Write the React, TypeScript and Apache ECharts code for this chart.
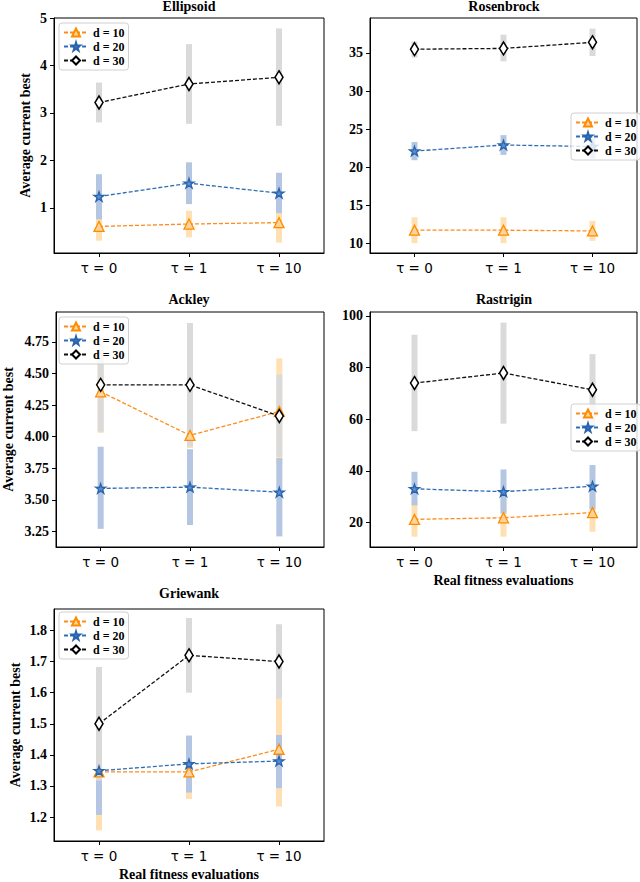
import React, { useEffect, useRef } from "react";
import * as echarts from "echarts";

// ---------- data ----------
const tauX = [0, 1, 2];
const tauLabels = ["τ = 0", "τ = 1", "τ = 10"];
const seriesNames = ["d = 10", "d = 20", "d = 30"];

// each: [d=10, d=20, d=30] x [τ=0, τ=1, τ=10]
const ellipsoidMean = [[0.61, 0.66, 0.69], [1.24, 1.52, 1.31], [3.22, 3.61, 3.75]];
const ellipsoidLow = [[0.31, 0.38, 0.27], [0.76, 1.08, 0.89], [2.8, 2.77, 2.73]];
const ellipsoidHigh = [[0.91, 0.94, 1.11], [1.71, 1.96, 1.74], [3.64, 4.45, 4.78]];
const ellipsoidTicks = [1, 2, 3, 4, 5];

const rosenbrockMean = [[11.7, 11.7, 11.6], [22.1, 22.9, 22.7], [35.5, 35.6, 36.4]];
const rosenbrockLow = [[10.0, 10.0, 10.3], [20.9, 21.6, 21.1], [34.4, 33.9, 34.6]];
const rosenbrockHigh = [[13.4, 13.4, 12.9], [23.3, 24.2, 24.0], [36.5, 37.4, 38.2]];
const rosenbrockTicks = [10, 15, 20, 25, 30, 35];

const ackleyMean = [[4.355, 4.01, 4.2], [3.59, 3.6, 3.56], [4.41, 4.41, 4.163]];
const ackleyLow = [[4.03, 3.91, 3.78], [3.27, 3.3, 3.21], [4.04, 3.92, 3.84]];
const ackleyHigh = [[4.68, 4.11, 4.62], [3.92, 3.9, 3.83], [4.78, 4.9, 4.49]];
const ackleyTicks = [3.25, 3.5, 3.75, 4.0, 4.25, 4.5, 4.75];

const rastriginMean = [[21.3, 21.9, 23.9], [33.1, 32.0, 34.1], [74.0, 77.9, 71.4]];
const rastriginLow = [[14.6, 14.6, 16.5], [26.7, 23.6, 25.1], [55.4, 58.3, 57.6]];
const rastriginHigh = [[28.0, 29.2, 31.3], [39.7, 40.6, 42.3], [92.7, 97.4, 85.2]];
const rastriginTicks = [20, 40, 60, 80, 100];

const griewankMean = [[1.345, 1.345, 1.418], [1.349, 1.371, 1.38], [1.5, 1.72, 1.7]];
const griewankLow = [[1.157, 1.258, 1.234], [1.207, 1.279, 1.293], [1.317, 1.6, 1.58]];
const griewankHigh = [[1.53, 1.43, 1.58], [1.49, 1.462, 1.464], [1.683, 1.84, 1.82]];
const griewankTicks = [1.2, 1.3, 1.4, 1.5, 1.6, 1.7, 1.8];

// ---------- styles ----------
const lineColors = ["#ff8c1a", "#2f6eb5", "#111111"];
const bandColors = ["#fee0b2", "#b4c6e2", "#dadada"];
const symbolFills = ["#ffd49a", "#5a8fd0", "#ffffff"];
const symbolBorders = ["#ff8c00", "#2a64ad", "#000000"];
const starPath =
  "path://M50,0L61.2,34.6L97.6,34.5L68.1,55.9L79.4,90.5L50,69L20.6,90.5L31.9,55.9L2.4,34.5L38.8,34.6Z";
const symbols = ["triangle", starPath, "diamond"];
const symbolSizes: any[] = [10, 10, [8, 13]];

const serif = "'Liberation Serif', 'Times New Roman', serif";

const panels = [
  {
    title: "Ellipsoid", mean: ellipsoidMean, lo: ellipsoidLow, hi: ellipsoidHigh, ticks: ellipsoidTicks,
    yMin: 0.05, yMax: 5.0, dec: 0,
    grid: { left: 54, top: 18, width: 270, height: 235 }, legend: { left: 59, top: 23 },
    yName: true, yNameGap: 22, xName: false, titleX: 189, titleY: 6,
  },
  {
    title: "Rosenbrock", mean: rosenbrockMean, lo: rosenbrockLow, hi: rosenbrockHigh, ticks: rosenbrockTicks,
    yMin: 8.7, yMax: 39.6, dec: 0,
    grid: { left: 370, top: 18, width: 267, height: 235 }, legend: { left: 571, top: 113 },
    yName: false, yNameGap: 0, xName: false, titleX: 504, titleY: 6,
  },
  {
    title: "Ackley", mean: ackleyMean, lo: ackleyLow, hi: ackleyHigh, ticks: ackleyTicks,
    yMin: 3.126, yMax: 4.987, dec: 2,
    grid: { left: 54, top: 312, width: 270, height: 235 }, legend: { left: 59, top: 317 },
    yName: true, yNameGap: 41, xName: false, titleX: 189, titleY: 299,
  },
  {
    title: "Rastrigin", mean: rastriginMean, lo: rastriginLow, hi: rastriginHigh, ticks: rastriginTicks,
    yMin: 10.6, yMax: 101.5, dec: 0,
    grid: { left: 370, top: 312, width: 267, height: 235 }, legend: { left: 571, top: 404 },
    yName: false, yNameGap: 0, xName: true, titleX: 504, titleY: 299,
  },
  {
    title: "Griewank", mean: griewankMean, lo: griewankLow, hi: griewankHigh, ticks: griewankTicks,
    yMin: 1.123, yMax: 1.869, dec: 1,
    grid: { left: 54, top: 609, width: 270, height: 233 }, legend: { left: 59, top: 612 },
    yName: true, yNameGap: 32, xName: true, titleX: 189, titleY: 593,
  },
];

function buildOption() {
  const grids: any[] = [];
  const xAxes: any[] = [];
  const yAxes: any[] = [];
  const series: any[] = [];
  const legends: any[] = [];
  const graphics: any[] = [];

  panels.forEach((p, gi) => {
    grids.push({ ...p.grid, show: true, borderColor: "#000", borderWidth: 1, backgroundColor: "transparent" });
    xAxes.push({
      type: "value", gridIndex: gi, min: -0.5, max: 2.5,
      axisLine: { show: true, onZero: false, lineStyle: { color: "#000", width: 1 } },
      axisTick: { show: true, inside: false, length: 4, customValues: tauX, lineStyle: { color: "#000" } },
      axisLabel: {
        customValues: tauX, margin: 8, color: "#000", fontFamily: "'DejaVu Sans'", fontSize: 13.5,
        formatter: (v: number) => tauLabels[Math.round(v)] ?? "",
      },
      splitLine: { show: false },
      name: p.xName ? "Real fitness evaluations" : "",
      nameLocation: "middle", nameGap: 26,
      nameTextStyle: { fontFamily: serif, fontWeight: "bold", fontSize: 14, color: "#000" },
    });
    yAxes.push({
      type: "value", gridIndex: gi, min: p.yMin, max: p.yMax,
      axisLine: { show: true, onZero: false, lineStyle: { color: "#000", width: 1 } },
      axisTick: { show: true, inside: false, length: 4, customValues: p.ticks, lineStyle: { color: "#000" } },
      axisLabel: {
        customValues: p.ticks, margin: 7, color: "#000", fontFamily: serif, fontWeight: "bold", fontSize: 14,
        formatter: (v: number) => v.toFixed(p.dec),
      },
      splitLine: { show: false },
      name: p.yName ? "Average current best" : "",
      nameLocation: "middle", nameGap: p.yNameGap,
      nameTextStyle: { fontFamily: serif, fontWeight: "bold", fontSize: 14, color: "#000" },
    });

    // bands
    for (let k = 0; k < 3; k++) {
      const color = bandColors[k];
      series.push({
        type: "custom", xAxisIndex: gi, yAxisIndex: gi, silent: true,
        data: tauX.map((x, i) => [x, p.lo[k][i], p.hi[k][i]]),
        renderItem: (params: any, api: any) => {
          const x = api.value(0);
          const top = api.coord([x, api.value(2)]);
          const bot = api.coord([x, api.value(1)]);
          return {
            type: "rect",
            shape: { x: top[0] - 3, y: top[1], width: 6, height: bot[1] - top[1] },
            style: { fill: color },
          };
        },
      });
    }
    // lines
    for (let k = 0; k < 3; k++) {
      series.push({
        type: "line", name: seriesNames[k], xAxisIndex: gi, yAxisIndex: gi,
        data: tauX.map((x, i) => [x, p.mean[k][i]]),
        symbol: symbols[k], symbolSize: symbolSizes[k], symbolKeepAspect: true,
        showAllSymbol: true,
        lineStyle: { color: lineColors[k], width: 1.3, type: [4, 2] },
        itemStyle: { color: symbolFills[k], borderColor: symbolBorders[k], borderWidth: k === 2 ? 1.6 : 1.3 },
        emphasis: { disabled: true },
      });
    }
    legends.push({
      data: seriesNames, orient: "vertical", left: p.legend.left, top: p.legend.top,
      itemWidth: 24, itemHeight: 10, itemGap: 1, padding: [3, 4, 3, 4],
      backgroundColor: "rgba(255,255,255,0.8)", borderColor: "#d0d0d0", borderWidth: 1, borderRadius: 3,
      textStyle: { fontFamily: serif, fontWeight: "bold", fontSize: 12, lineHeight: 13, color: "#000" },
      selectedMode: false,
    });
    graphics.push({
      type: "text", x: p.titleX, y: p.titleY,
      style: {
        text: p.title, fontFamily: serif, fontWeight: "bold", fontSize: 14, fill: "#000",
        align: "center", verticalAlign: "middle",
      },
    });
  });

  return {
    animation: false,
    backgroundColor: "#fff",
    grid: grids, xAxis: xAxes, yAxis: yAxes, series, legend: legends, graphic: graphics,
  };
}

export default function App() {
  const ref = useRef<HTMLDivElement>(null);
  useEffect(() => {
    document.body.style.margin = "0";
    if (!ref.current) return;
    const chart = echarts.init(ref.current, undefined, { renderer: "svg" });
    chart.setOption(buildOption() as any);
    return () => chart.dispose();
  }, []);
  return <div ref={ref} style={{ width: 640, height: 882 }} />;
}
